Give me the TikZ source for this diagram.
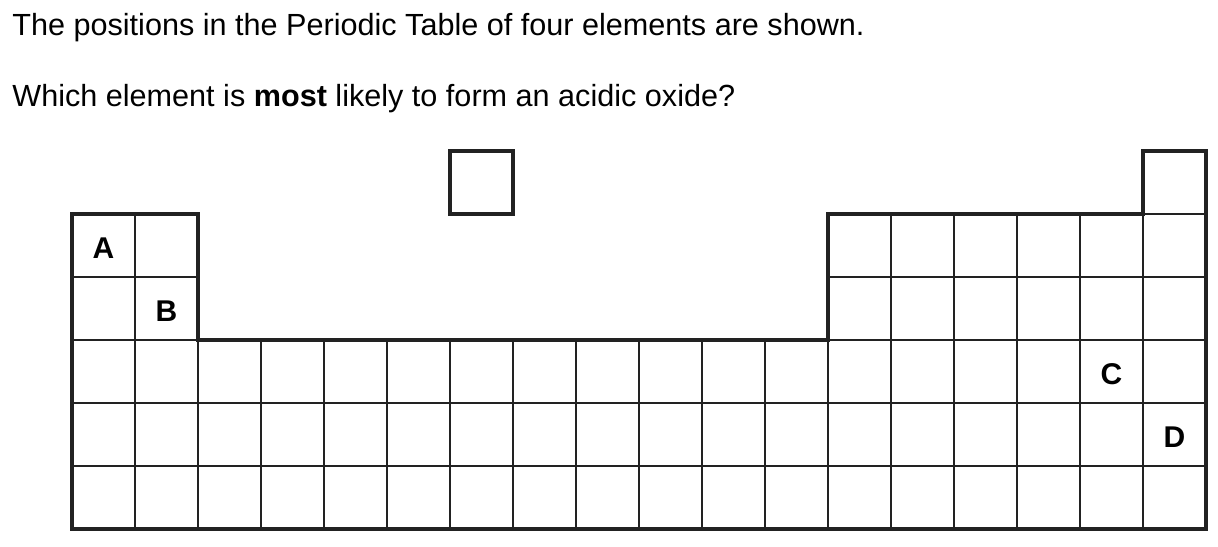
\documentclass[tikz,border=0pt]{standalone}
\usepackage{fontspec}
\setmainfont{Liberation Sans}
\usepackage{xcolor}
\usepackage{tikz}
\usetikzlibrary{positioning}

\definecolor{ink}{HTML}{222222}

\begin{document}
\begin{tikzpicture}[
  x=31.5pt, y=-31.5pt,
  cell/.style={
    draw=ink, line width=0.75pt,
    minimum size=31.5pt, inner sep=0pt, outer sep=0pt
  },
  outline/.style={draw=ink, line width=2pt, line join=miter},
  element/.style={font=\bfseries\fontsize{15}{18}\selectfont, yshift=-1.5pt},
  question/.style={anchor=base west, inner sep=0pt, font=\fontsize{15.3}{18}\selectfont}
  ]
\useasboundingbox (-0.6429,-2.8968) rectangle (18.6905,5.7857);

% question text
\node[question] (q1) at (-0.4524,-2.3413) {The positions in the Periodic Table of four elements are shown.};
\node[question] (q2) at (-0.4524,-1.2143) {Which element is \textbf{most} likely to form an acidic oxide?};

% cells of the table
\node[cell] (c-0-7) at (7,0) {};
\node[cell] (c-0-18) at (18,0) {};
\foreach \r in {1,2}
  \foreach \c in {1,2,13,14,15,16,17,18}
    \node[cell] (c-\r-\c) at (\c,\r) {};
\foreach \r in {3,4,5}
  \foreach \c in {1,...,18}
    \node[cell] (c-\r-\c) at (\c,\r) {};

% thick outline
\draw[outline] (c-0-7.north west) rectangle (c-0-7.south east);
\draw[outline] (c-1-1.north west) -- (c-1-2.north east) -- (c-2-2.south east)
  -- (c-2-13.south west) -- (c-1-13.north west) -- (c-1-17.north east)
  -- (c-0-18.north west) -- (c-0-18.north east) -- (c-5-18.south east)
  -- (c-5-1.south west) -- cycle;

% the four elements
\node[element] (elA) at (c-1-1) {A};
\node[element] (elB) at (c-2-2) {B};
\node[element] (elC) at (c-3-17) {C};
\node[element] (elD) at (c-4-18) {D};

\end{tikzpicture}
\end{document}
